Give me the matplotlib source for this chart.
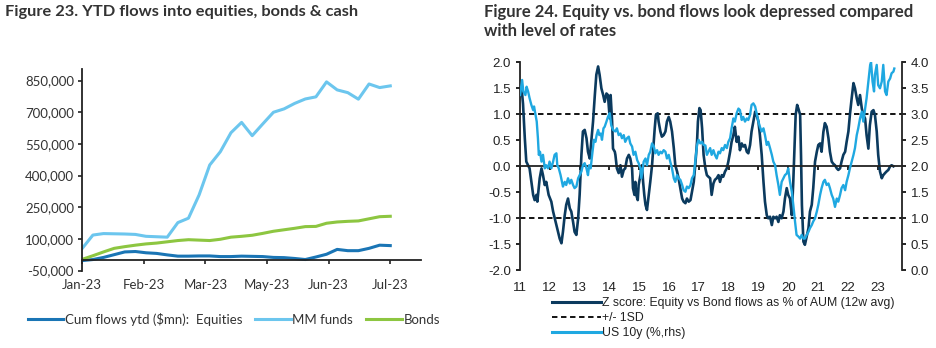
import matplotlib.pyplot as plt
import numpy as np
from matplotlib.lines import Line2D
from matplotlib.ticker import FuncFormatter

# ---- Figure 23 data: cumulative weekly flows ytd ($mn) ----
month_labels = ['Jan-23', 'Feb-23', 'Mar-23', 'May-23', 'Jun-23', 'Jul-23']
equities = [-3, 2, 12, 25, 38, 40, 34, 31, 24, 18, 18, 19, 19, 16, 16,
            18, 17, 16, 12, 11, 7, 2, 14, 27, 50, 44, 44, 55, 70, 68]
mm_funds = [55, 118, 125, 124, 123, 121, 112, 110, 108, 177, 198, 308, 450, 513, 603,
            652, 589, 645, 700, 716, 742, 763, 773, 844, 806, 793, 762, 834, 817, 825]
bonds = [3, 20, 38, 55, 63, 70, 76, 80, 86, 92, 96, 94, 92, 98, 108,
         112, 117, 126, 136, 143, 150, 158, 159, 174, 180, 183, 185, 195, 205, 207]

# ---- Figure 24 data ----
z_year = [2011.0, 2011.06, 2011.1, 2011.16, 2011.21, 2011.32, 2011.38, 2011.44, 2011.49, 2011.55,
          2011.58, 2011.66, 2011.72, 2011.77, 2011.83, 2011.88, 2011.96, 2012.05, 2012.11, 2012.22,
          2012.33, 2012.39, 2012.44, 2012.5, 2012.55, 2012.61, 2012.67, 2012.72, 2012.78, 2012.83,
          2012.89, 2012.95, 2013.0, 2013.06, 2013.11, 2013.17, 2013.23, 2013.28, 2013.34, 2013.39,
          2013.45, 2013.51, 2013.56, 2013.62, 2013.67, 2013.73, 2013.79, 2013.84, 2013.9, 2013.95,
          2014.01, 2014.04, 2014.09, 2014.12, 2014.18, 2014.2, 2014.25, 2014.31, 2014.37, 2014.42,
          2014.48, 2014.53, 2014.59, 2014.65, 2014.7, 2014.76, 2014.79, 2014.84, 2014.87, 2014.9,
          2014.95, 2014.98, 2015.04, 2015.09, 2015.13, 2015.17, 2015.21, 2015.26, 2015.32, 2015.37,
          2015.43, 2015.47, 2015.52, 2015.56, 2015.62, 2015.65, 2015.71, 2015.76, 2015.82, 2015.88,
          2015.93, 2015.99, 2016.04, 2016.1, 2016.16, 2016.21, 2016.27, 2016.32, 2016.38, 2016.44,
          2016.49, 2016.55, 2016.6, 2016.66, 2016.72, 2016.77, 2016.83, 2016.88, 2016.94, 2016.97,
          2017.02, 2017.06, 2017.11, 2017.16, 2017.22, 2017.27, 2017.32, 2017.38, 2017.43, 2017.49,
          2017.54, 2017.6, 2017.66, 2017.71, 2017.77, 2017.82, 2017.88, 2017.94, 2017.99, 2018.05,
          2018.1, 2018.16, 2018.21, 2018.27, 2018.33, 2018.38, 2018.44, 2018.49, 2018.55, 2018.61,
          2018.66, 2018.72, 2018.77, 2018.83, 2018.89, 2018.94, 2019.0, 2019.05, 2019.11, 2019.17,
          2019.22, 2019.28, 2019.33, 2019.39, 2019.45, 2019.5, 2019.56, 2019.61, 2019.67, 2019.72,
          2019.78, 2019.84, 2019.89, 2019.95, 2020.0, 2020.06, 2020.12, 2020.17, 2020.21, 2020.25,
          2020.3, 2020.34, 2020.4, 2020.43, 2020.46, 2020.51, 2020.56, 2020.62, 2020.68, 2020.73,
          2020.79, 2020.84, 2020.9, 2020.96, 2021.01, 2021.07, 2021.12, 2021.18, 2021.23, 2021.29,
          2021.35, 2021.4, 2021.46, 2021.51, 2021.57, 2021.63, 2021.68, 2021.74, 2021.79, 2021.85,
          2021.91, 2021.96, 2022.02, 2022.07, 2022.13, 2022.19, 2022.24, 2022.3, 2022.35, 2022.41,
          2022.47, 2022.52, 2022.58, 2022.63, 2022.69, 2022.74, 2022.8, 2022.86, 2022.91, 2022.97,
          2023.02, 2023.08, 2023.14, 2023.19, 2023.25, 2023.3, 2023.36, 2023.42, 2023.47, 2023.53]
z_score = [1.37, 1.45, 1.2, 0.54, 0.09, -0.04, -0.3, -0.55, -0.65, -0.55,
           -0.68, -0.23, -0.04, -0.17, -0.36, -0.3, -0.55, -0.68, -0.87, -1.13,
           -1.39, -1.48, -1.26, -0.94, -0.74, -0.62, -0.81, -0.87, -1.07, -1.26,
           -1.32, -1.0, -0.55, 0.22, 0.67, 0.7, 0.54, 0.28, 0.15, 0.47,
           0.86, 1.37, 1.76, 1.92, 1.76, 1.5, 1.37, 1.24, 1.4, 1.37,
           0.92, 1.37, 0.86, 0.34, 0.28, 0.22, -0.04, -0.13, 0.02, -0.2,
           -0.07, -0.04, 0.15, 0.22, 0.15, -0.04, -0.42, -0.55, -0.3, -0.55,
           -0.65, -0.36, -0.17, 0.02, -0.3, -0.55, -0.74, -0.84, -0.55, -0.3,
           0.02, 0.34, 0.73, 0.99, 1.02, 0.86, 0.67, 0.57, 0.6, 0.67,
           0.86, 0.95, 0.86, 0.67, 0.35, 0.02, -0.1, -0.23, -0.42, -0.62,
           -0.68, -0.71, -0.62, -0.68, -0.65, -0.49, -0.3, 0.02, 0.47, 0.86,
           1.12, 1.08, 0.73, 0.22, -0.04, -0.17, -0.2, -0.23, -0.55, -0.33,
           -0.26, -0.23, -0.17, -0.3, -0.17, -0.2, -0.1, -0.04, 0.09, 0.28,
           0.47, 0.6, 0.76, 0.47, 0.57, 0.31, 0.44, 0.38, 0.41, 0.28,
           0.25, 0.41, 0.67, 0.86, 1.05, 0.99, 0.86, 0.6, 0.22, -0.3,
           -0.68, -0.94, -1.0, -0.97, -1.13, -0.97, -1.0, -0.97, -1.07, -0.94,
           -1.0, -0.87, -0.62, -0.42, -0.55, -0.62, -0.94, -0.3, 0.35, 0.99,
           1.18, 1.11, 0.99, 0.2, -0.75, -1.45, -1.51, -1.35, -1.19, -0.87,
           -0.74, -0.42, 0.09, 0.28, 0.41, 0.44, 0.28, 0.66, 0.83, 0.76,
           0.54, 0.28, 0.09, 0.05, 0.02, -0.04, -0.07, -0.04, 0.09, 0.22,
           0.28, 0.47, 0.67, 0.99, 1.31, 1.6, 1.5, 1.31, 1.18, 1.37,
           1.11, 0.99, 0.92, 0.6, 0.34, 0.79, 1.05, 1.08, 0.99, 0.67,
           0.22, -0.1, -0.23, -0.17, -0.13, -0.1, -0.07, 0.0, 0.02, 0.0]

us_year = [2011.0, 2011.07, 2011.11, 2011.18, 2011.22, 2011.27, 2011.32, 2011.38, 2011.44, 2011.47,
           2011.52, 2011.56, 2011.6, 2011.63, 2011.67, 2011.72, 2011.77, 2011.83, 2011.88, 2011.94,
           2011.99, 2012.05, 2012.11, 2012.16, 2012.22, 2012.25, 2012.3, 2012.36, 2012.44, 2012.5,
           2012.55, 2012.61, 2012.67, 2012.72, 2012.78, 2012.83, 2012.89, 2012.95, 2013.0, 2013.06,
           2013.11, 2013.17, 2013.23, 2013.28, 2013.32, 2013.37, 2013.42, 2013.48, 2013.53, 2013.57,
           2013.62, 2013.66, 2013.71, 2013.75, 2013.8, 2013.84, 2013.9, 2013.95, 2014.01, 2014.06,
           2014.12, 2014.2, 2014.25, 2014.31, 2014.37, 2014.42, 2014.48, 2014.53, 2014.59, 2014.65,
           2014.7, 2014.76, 2014.81, 2014.87, 2014.93, 2014.98, 2015.04, 2015.07, 2015.12, 2015.15,
           2015.21, 2015.26, 2015.32, 2015.37, 2015.43, 2015.49, 2015.54, 2015.6, 2015.65, 2015.71,
           2015.76, 2015.82, 2015.88, 2015.93, 2015.99, 2016.04, 2016.1, 2016.16, 2016.21, 2016.27,
           2016.32, 2016.38, 2016.44, 2016.49, 2016.55, 2016.6, 2016.66, 2016.72, 2016.77, 2016.83,
           2016.88, 2016.94, 2016.99, 2017.05, 2017.11, 2017.16, 2017.22, 2017.27, 2017.32, 2017.38,
           2017.43, 2017.49, 2017.54, 2017.6, 2017.66, 2017.71, 2017.77, 2017.82, 2017.88, 2017.94,
           2017.99, 2018.05, 2018.1, 2018.16, 2018.21, 2018.27, 2018.33, 2018.38, 2018.44, 2018.49,
           2018.55, 2018.61, 2018.66, 2018.72, 2018.77, 2018.83, 2018.89, 2018.94, 2019.0, 2019.05,
           2019.11, 2019.17, 2019.22, 2019.28, 2019.33, 2019.39, 2019.45, 2019.5, 2019.56, 2019.61,
           2019.67, 2019.72, 2019.78, 2019.84, 2019.89, 2019.95, 2020.0, 2020.06, 2020.12, 2020.17,
           2020.23, 2020.28, 2020.34, 2020.4, 2020.45, 2020.51, 2020.56, 2020.62, 2020.68, 2020.73,
           2020.79, 2020.84, 2020.9, 2020.96, 2021.01, 2021.07, 2021.12, 2021.18, 2021.23, 2021.29,
           2021.35, 2021.4, 2021.46, 2021.51, 2021.57, 2021.63, 2021.68, 2021.74, 2021.79, 2021.85,
           2021.91, 2021.96, 2022.02, 2022.07, 2022.13, 2022.19, 2022.24, 2022.3, 2022.35, 2022.41,
           2022.47, 2022.52, 2022.58, 2022.63, 2022.69, 2022.75, 2022.78, 2022.83, 2022.88, 2022.91,
           2022.97, 2023.02, 2023.08, 2023.14, 2023.19, 2023.25, 2023.3, 2023.36, 2023.42, 2023.47,
           2023.53, 2023.56]
us_10y = [3.37, 3.66, 3.44, 3.37, 3.53, 3.44, 3.31, 3.18, 3.08, 3.15,
          2.99, 2.86, 2.54, 2.22, 2.28, 2.09, 2.22, 1.96, 2.02, 1.96,
          2.09, 1.96, 2.09, 2.22, 2.25, 2.02, 1.96, 1.83, 1.61, 1.7,
          1.64, 1.77, 1.67, 1.74, 1.64, 1.58, 1.61, 1.77, 1.83, 1.9,
          2.02, 2.06, 1.96, 1.83, 2.02, 1.96, 2.22, 2.51, 2.47, 2.6,
          2.7, 2.6, 2.63, 2.51, 2.73, 2.76, 2.86, 2.95, 3.02, 2.79,
          2.7, 2.67, 2.73, 2.6, 2.63, 2.54, 2.6, 2.47, 2.54, 2.57,
          2.44, 2.38, 2.22, 2.28, 2.12, 2.06, 1.96, 1.77, 1.96, 2.09,
          2.15, 2.02, 2.22, 2.28, 2.44, 2.38, 2.25, 2.31, 2.22, 2.28,
          2.25, 2.31, 2.28, 2.15, 2.22, 2.09, 1.96, 1.77, 1.7, 1.83,
          1.77, 1.74, 1.64, 1.54, 1.51, 1.61, 1.58, 1.64, 1.77, 1.83,
          2.09, 2.41, 2.51, 2.44, 2.47, 2.41, 2.4, 2.22, 2.28, 2.35,
          2.22, 2.31, 2.22, 2.15, 2.28, 2.25, 2.35, 2.31, 2.41, 2.35,
          2.47, 2.54, 2.73, 2.92, 2.86, 3.02, 3.11, 3.08, 2.89, 2.95,
          2.86, 2.92, 2.89, 2.99, 3.18, 3.21, 3.15, 3.02, 2.86, 2.76,
          2.67, 2.73, 2.6, 2.41, 2.47, 2.35, 2.22, 2.09, 2.02, 1.83,
          1.64, 1.45, 1.7, 1.77, 1.83, 1.86, 1.96, 1.7, 1.51, 1.26,
          0.93, 0.68, 0.65, 0.61, 0.68, 0.61, 0.61, 0.68, 0.74, 0.81,
          0.87, 0.94, 1.0, 1.13, 1.26, 1.45, 1.58, 1.7, 1.74, 1.64,
          1.67, 1.58, 1.45, 1.38, 1.22, 1.38, 1.32, 1.45, 1.58, 1.64,
          1.54, 1.7, 1.83, 1.96, 2.09, 2.22, 2.35, 2.6, 2.73, 2.92,
          3.05, 2.86, 3.11, 3.31, 3.63, 3.95, 4.0, 3.63, 3.44, 3.76,
          3.95, 3.56, 3.5, 3.63, 3.95, 3.44, 3.37, 3.63, 3.69, 3.79,
          3.82, 3.88]

title_font = ['Lato', 'DejaVu Sans']
fig = plt.figure(figsize=(9.36, 3.48), dpi=100)

# ================= Figure 23 =================
ax1 = fig.add_axes([0.0879, 0.2227, 0.3615, 0.579])
x = np.arange(len(mm_funds))
ax1.plot(x, np.array(equities) * 1000, color='#1a75b5', lw=2.2, label='Cum flows ytd ($mn):  Equities')
ax1.plot(x, np.array(mm_funds) * 1000, color='#6cc6ee', lw=2.2, label='MM funds')
ax1.plot(x, np.array(bonds) * 1000, color='#8dc641', lw=2.2, label='Bonds')
ax1.set_xlim(0, len(x) - 1 + 2.86)
ax1.set_ylim(-50000, 905000)
ax1.set_yticks(np.arange(-50000, 850001, 150000))
ax1.yaxis.set_major_formatter(FuncFormatter(lambda v, p: f'{int(v):,}'))
ax1.set_xticks(np.linspace(0, len(x) - 1, len(month_labels)))
ax1.set_xticklabels(month_labels)
for s in ['top', 'right']:
    ax1.spines[s].set_visible(False)
ax1.spines['bottom'].set_position(('data', 0))
for s in ['left', 'bottom']:
    ax1.spines[s].set_color('#222222')
    ax1.spines[s].set_linewidth(1.3)
ax1.tick_params(axis='y', direction='out', length=3, width=1.2, color='#222222',
                labelsize=9.5, labelcolor='#333333', pad=3)
ax1.tick_params(axis='x', direction='out', length=3, width=1.2, color='#222222',
                labelsize=9.5, labelcolor='#333333', pad=10.5)
for lab in ax1.get_xticklabels() + ax1.get_yticklabels():
    lab.set_family(title_font)
fig.text(0.005, 1 - 12 / 348, 'Figure 23. YTD flows into equities, bonds & cash',
         family=title_font, fontweight='bold', fontsize=11.8, color='#333333', va='center')
fig.legend(handles=ax1.get_lines(), loc='center left', bbox_to_anchor=(0.017, 0.083), ncol=3,
           frameon=False, handlelength=2.7, handletextpad=0.1, columnspacing=1.0,
           prop={'family': title_font, 'size': 9.5}, labelcolor='#333333')

# ================= Figure 24 =================
ax2 = fig.add_axes([0.5556, 0.2233, 0.4078, 0.5977])
ax3 = ax2.twinx()
navy = '#0b3a5e'
light = '#1fa8e1'
ax2.axhline(1, color='black', lw=1.3, ls=(0, (3, 2)), zorder=1)
ax2.axhline(-1, color='black', lw=1.3, ls=(0, (3, 2)), zorder=1)
ax2.plot(z_year, z_score, color=navy, lw=1.9, zorder=2)
ax3.plot(us_year, us_10y, color=light, lw=1.7)
ax2.set_xlim(2011, 2023.81)
ax2.set_ylim(-2, 2)
ax3.set_ylim(0, 4)
ax2.set_yticks(np.arange(-2, 2.01, 0.5))
ax3.set_yticks(np.arange(0, 4.01, 0.5))
ax2.yaxis.set_major_formatter(FuncFormatter(lambda v, p: f'{v:.1f}'))
ax3.yaxis.set_major_formatter(FuncFormatter(lambda v, p: f'{v:.1f}'))
ax2.set_xticks(np.arange(2011, 2024))
ax2.set_xticklabels([str(y)[2:] for y in range(2011, 2024)])
for a in (ax2, ax3):
    a.spines['top'].set_visible(False)
ax2.spines['right'].set_visible(False)
ax3.spines['left'].set_visible(False)
ax3.spines['bottom'].set_visible(False)
ax2.spines['bottom'].set_position(('data', 0))
for sp in (ax2.spines['left'], ax2.spines['bottom'], ax3.spines['right']):
    sp.set_color('#222222')
    sp.set_linewidth(1.3)
arial = ['Liberation Sans', 'DejaVu Sans']
ax2.tick_params(axis='y', direction='out', length=3, width=1.2, labelsize=9.5, labelcolor='#222222')
ax3.tick_params(axis='y', direction='out', length=3, width=1.2, labelsize=9.5, labelcolor='#222222')
ax2.tick_params(axis='x', direction='out', length=3, width=1.2, labelsize=9.5, labelcolor='#222222', pad=80)
for lab in ax2.get_xticklabels() + ax2.get_yticklabels() + ax3.get_yticklabels():
    lab.set_family(arial)
fig.text(484 / 936, 1 - 4 / 348,
         'Figure 24. Equity vs. bond flows look depressed compared\nwith level of rates',
         family=title_font, fontweight='bold', fontsize=12, color='#333333', va='top', linespacing=1.2)
handles = [Line2D([], [], color=navy, lw=2.2),
           Line2D([], [], color='black', lw=1.3, ls=(0, (3, 2))),
           Line2D([], [], color=light, lw=2.2)]
fig.legend(handles, ['Z score: Equity vs Bond flows as % of AUM (12w avg)', '+/- 1SD', 'US 10y (%,rhs)'],
           loc='center left', bbox_to_anchor=(0.578, 0.086), frameon=False, handlelength=4.0,
           handletextpad=0.1, labelspacing=0.25, prop={'family': arial, 'size': 8.8},
           labelcolor='#222222')

fig.savefig('out.png', dpi=100)
